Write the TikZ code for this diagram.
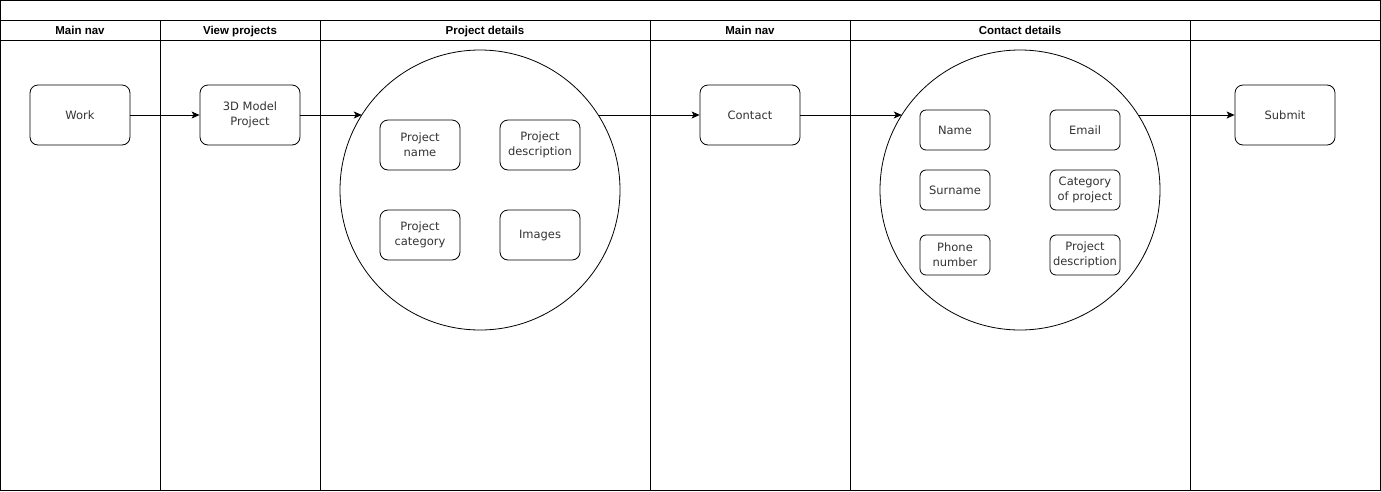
\documentclass[tikz,border=0pt]{standalone}
\usepackage{fontspec}
\setmainfont{Liberation Sans}
\newfontfamily\boxfont{DejaVu Sans}
\usetikzlibrary{arrows.meta,calc}
\begin{document}
\begin{tikzpicture}[x=1pt,y=-1pt,
  frame/.style={draw=black, line width=1pt},
  lanehead/.style={font=\bfseries\fontsize{11.5}{14}\selectfont, inner sep=0pt, anchor=base},
  box/.style={draw=black, line width=0.8pt, rounded corners=8pt, align=center,
    inner sep=0pt, text=black!80, font=\boxfont\fontsize{11.5}{15}\selectfont},
  bigbox/.style={box, minimum width=100pt, minimum height=60pt},
  midbox/.style={box, minimum width=80pt, minimum height=50pt},
  smallbox/.style={box, rounded corners=6pt, minimum width=70pt, minimum height=40pt},
  group/.style={draw=black, line width=0.8pt, circle, minimum size=280pt, inner sep=0pt, outer sep=0pt},
  arr/.style={draw=black, line width=0.8pt, -{Stealth[length=8pt,width=7pt,inset=2pt]}}
]
\useasboundingbox (0,0) rectangle (1381,491);

% pool frame, title row and lane header row
\draw[frame] (0.5,0.5) rectangle (1380.5,490.5);
\draw[frame] (0.5,20.5) -- (1380.5,20.5);
\draw[frame] (0.5,40.5) -- (1380.5,40.5);
\foreach \lx in {160.5,320.5,650.5,850.5,1190.5}
  \draw[frame] (\lx,20.5) -- (\lx,490.5);

% lane titles
\node[lanehead] (h1) at (80,34.5) {Main nav};
\node[lanehead] (h2) at (240,34.5) {View projects};
\node[lanehead] (h3) at (485,34.5) {Project details};
\node[lanehead] (h4) at (750,34.5) {Main nav};
\node[lanehead] (h5) at (1020,34.5) {Contact details};

% steps
\node[bigbox] (work) at (80,115) {Work};
\node[bigbox] (model) at (250,115) {3D Model\\Project};
\node[bigbox] (contact) at (750,115) {Contact};
\node[bigbox] (submit) at (1285,115) {Submit};

% project details group
\node[group] (pd) at (480,190) {};
\node[midbox] (pname) at (420,145) {Project\\name};
\node[midbox] (pdesc) at (540,145) {Project\\description};
\node[midbox] (pcat) at (420,235) {Project\\category};
\node[midbox] (pimg) at (540,235) {Images};

% contact details group
\node[group] (cd) at (1020,190) {};
\node[smallbox] (cname) at (955,130) {Name};
\node[smallbox] (cmail) at (1085,130) {Email};
\node[smallbox] (csur) at (955,190) {Surname};
\node[smallbox] (ccat) at (1085,190) {Category\\of project};
\node[smallbox] (cphone) at (955,255) {Phone\\number};
\node[smallbox] (cdesc) at (1085,255) {Project\\description};

% points where the flow line crosses each group circle
\coordinate (pdin)  at ($(pd.center)+(-118.2,-75)$);
\coordinate (pdout) at ($(pd.center)+(118.2,-75)$);
\coordinate (cdin)  at ($(cd.center)+(-118.2,-75)$);
\coordinate (cdout) at ($(cd.center)+(118.2,-75)$);

% flow
\draw[arr] (work.east) -- (model.west);
\draw[arr] (model.east) -- (pdin);
\draw[arr] (pdout) -- (contact.west);
\draw[arr] (contact.east) -- (cdin);
\draw[arr] (cdout) -- (submit.west);
\end{tikzpicture}
\end{document}
